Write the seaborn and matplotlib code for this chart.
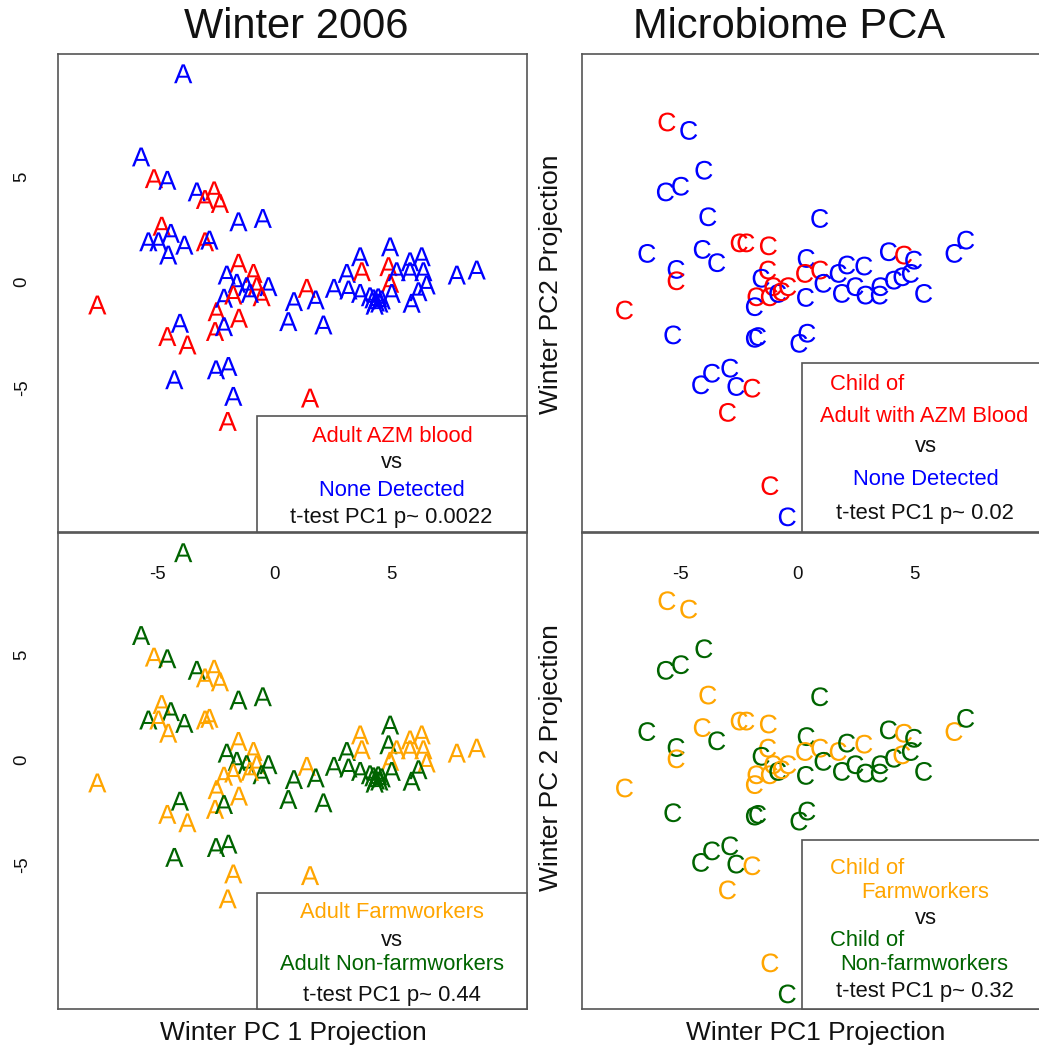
import numpy as np
import pandas as pd
import matplotlib
matplotlib.use("Agg")
import matplotlib.pyplot as plt
from matplotlib.textpath import TextPath
from matplotlib.font_manager import FontProperties
from matplotlib.path import Path
from matplotlib.patches import Rectangle
import seaborn as sns

# ---------------- data: winter 2006 PCA projections ----------------
# adults (plotted with the letter "A")
adult_pc1 = [-3.88, -5.68, -5.13, -4.56, -3.30, -2.95, -2.56, -2.31, -1.52, -0.48,
             -4.80, -4.41, -5.37, -4.94, -4.52, -3.83, -2.95, -2.76,
             -7.55, -4.02, -4.56, -3.70, -2.45, -2.52, -2.14, -1.50, -2.14,
             -4.26, -2.48, -1.95, -1.74, -1.98, 1.54,
             -1.52, -2.02, -1.59, -0.88, -1.17, -0.74, -0.24, -0.53, -1.74, -1.03,
             0.61, 2.11, 0.85, 1.40, 1.78, 2.56, 3.11, 3.18, 3.68, 3.68, 3.75,
             4.96, 4.89, 4.96, 4.10, 4.25, 4.35, 4.45, 4.50, 4.30, 4.60, 5.03,
             5.24, 5.81, 6.31, 5.81, 6.38, 6.52, 6.17, 5.88, 7.81, 8.66]
adult_pc2 = [9.89, 5.94, 4.91, 4.83, 4.28, 3.92, 4.33, 3.73, 2.86, 3.02,
             2.65, 2.31, 1.91, 1.91, 1.28, 1.75, 1.91, 1.99,
             -1.09, -1.96, -2.59, -2.99, -1.41, -2.35, -2.12, -1.72, -0.77,
             -4.64, -4.17, -4.01, -5.43, -6.62, -5.51,
             0.89, 0.33, -0.06, 0.41, -0.22, -0.22, -0.22, -0.70, -0.62, -0.54,
             -1.88, -2.04, -0.93, -0.30, -0.85, -0.30, 0.41, -0.38, -0.54, 1.20, 0.49,
             1.67, 0.73, -0.06, -0.70, -0.80, -0.95, -0.75, -1.00, -1.10, -0.85, -0.54,
             0.49, 0.96, 1.20, 0.49, 0.49, -0.14, -0.46, -1.01, 0.33, 0.57]
adult_blood = list("BBRBBRRRBB" "RBBBBBRB" "RBRRRRBRB" "BBBBRR" "RBBRBRBRRB"
                   "BBBRBBBBBBR" "BRRBBBBBBBB" "BBBBBBBBBB")
adult_work = list("GGOGGOOOGG" "OGGOOGOO" "OGOOOOGOO" "GGGOOO" "OGGOGOGGOO"
                  "GGGOGGGGGOO" "GGOGGGGGGGG" "OOOOOOGGOO")

# children (plotted with the letter "C")
child_pc1 = [-5.59, -4.66, -4.01, -5.66, -5.01, -3.84, 0.95, -6.45, -4.08, -3.46,
             -5.20, -5.20, -2.50, -2.21, -1.25, -7.41, -5.34, -1.85, -1.71, 0.06,
             0.40, -4.15, -3.68, -2.90, -2.64, -1.95, -3.00, -1.18, -0.44,
             -1.28, -1.56, -1.78, -1.85, -1.21, -1.06, -0.85, -0.42, -0.70,
             0.37, 0.30, 0.34, 0.95, 1.09, 1.74, 2.10, 1.88, 2.46, 2.84, 2.89,
             3.50, 3.53, 3.89, 4.54, 4.97, 4.11, 4.47, 4.83, 5.40, 6.70, 7.20]
child_pc2 = [7.60, 7.20, 5.31, 4.28, 4.55, 3.10, 3.02, 1.36, 1.55, 0.92,
             0.60, 0.06, 1.86, 1.86, 1.72, -1.33, -2.51, -2.67, -2.59, -2.91,
             -2.43, -4.88, -4.33, -4.09, -4.96, -5.04, -6.19, -9.67, -11.15,
             0.57, 0.18, -0.70, -1.17, -0.70, -0.22, -0.54, -0.22, -0.46,
             1.12, 0.41, -0.73, 0.57, -0.06, 0.41, 0.81, -0.54, -0.22, 0.76, -0.62,
             -0.62, -0.22, 1.44, 1.28, 1.04, 0.09, 0.25, 0.41, -0.54, 1.36, 1.99]
child_blood = list("RBBBBBBBBB" "BRRRRRBBBB" "BBBBBRRRB" "RBRBRRBRR"
                   "BRBRBBBBBBB" "BBBRBBBBBBB")
child_work = list("OOGGGOGGOG" "GOOOOOGGGG" "GGGGGOOOG" "OGOOOOGOO"
                  "GOGOGOGGGOG" "GGGOGGOGGOG")

blood_colors = {"R": "#FF0000", "B": "#0000FF"}
work_colors = {"O": "#FFA500", "G": "#006400"}

adults = pd.DataFrame({"pc1": adult_pc1, "pc2": adult_pc2,
                       "blood": adult_blood, "work": adult_work})
children = pd.DataFrame({"pc1": child_pc1, "pc2": child_pc2,
                         "blood": child_blood, "work": child_work})

# ---------------- style ----------------
sns.set_style("white")
plt.rcParams["font.family"] = ["Liberation Sans", "DejaVu Sans"]

W, H = 1039, 1050
FRAME = "#555555"
XLIM = (-9.23, 10.81)
YLIM = (-11.87, 10.83)


def letter_marker(ch):
    """Centered glyph outline usable as a scatter marker."""
    tp = TextPath((0, 0), ch, size=1, prop=FontProperties(family="Liberation Sans"))
    v = tp.vertices.copy()
    codes = tp.codes
    start = v[0].copy()
    for i, c in enumerate(codes):
        if c == Path.MOVETO:
            start = v[i].copy()
        elif c == Path.CLOSEPOLY:
            v[i] = start
    lo, hi = v.min(axis=0), v.max(axis=0)
    v -= (lo + hi) / 2
    return Path(v, codes)


MARK_A = letter_marker("A")
MARK_C = letter_marker("C")


def px_box(l, t, r, b):
    return [l / W, 1 - b / H, (r - l) / W, (b - t) / H]


def ftext(x, y, s, **kw):
    fig.text(x / W, 1 - y / H, s, **kw)


fig = plt.figure(figsize=(W / 100, H / 100), dpi=100)
fig.patch.set_facecolor("white")

ax_tl = fig.add_axes(px_box(58, 54, 527, 532))
ax_bl = fig.add_axes(px_box(58, 533, 527, 1009))
ax_tr = fig.add_axes(px_box(582, 54, 1050, 532))
ax_br = fig.add_axes(px_box(582, 533, 1050, 1009))

panels = [
    (ax_tl, adults, "blood", blood_colors, MARK_A),
    (ax_bl, adults, "work", work_colors, MARK_A),
    (ax_tr, children, "blood", blood_colors, MARK_C),
    (ax_br, children, "work", work_colors, MARK_C),
]

for ax, df, hue, pal, mk in panels:
    ax.set_facecolor("none")
    sns.scatterplot(data=df, x="pc1", y="pc2", hue=hue, palette=pal,
                    marker=mk, s=185, linewidth=0, edgecolor="none",
                    legend=False, ax=ax, zorder=2)
    ax.set_xlim(*XLIM)
    ax.set_ylim(*YLIM)
    ax.set_xlabel("")
    ax.set_ylabel("")
    for sp in ax.spines.values():
        sp.set_color(FRAME)
        sp.set_linewidth(1.2)
    ax.set_xticks([])
    ax.set_yticks([])

# x axes of the upper panels (labels fall into the lower panels)
for ax in (ax_tl, ax_tr):
    ax.set_xticks([-5, 0, 5])
    ax.set_xticklabels(["-5", "0", "5"], fontsize=13.4)
    ax.tick_params(axis="x", direction="out", length=7.2, width=1.1,
                   color=FRAME, pad=17, labelcolor="#111111")

# y axes of the left panels
for ax in (ax_tl, ax_bl):
    ax.set_yticks([-5, 0, 5])
    ax.set_yticklabels(["-5", "0", "5"], fontsize=13.4, rotation=90, va="center")
    ax.tick_params(axis="y", direction="out", length=7.2, width=1.1,
                   color=FRAME, pad=12.5, labelcolor="#111111")

# text boxes in the lower right corner of each panel
for ax, x0, h in [(ax_tl, 0.424, 0.243), (ax_bl, 0.424, 0.244),
                  (ax_tr, 0.470, 0.354), (ax_br, 0.470, 0.355)]:
    ax.add_patch(Rectangle((x0, 0), 1 - x0, h, transform=ax.transAxes,
                           facecolor="white", edgecolor=FRAME, linewidth=1.2,
                           zorder=3, clip_on=False))

LEG = 15.8
ftext(392, 437, "Adult AZM blood", color="#FF0000", fontsize=LEG, ha="center", va="center")
ftext(392, 463, "vs", color="#111111", fontsize=LEG, ha="center", va="center")
ftext(392, 490, "None Detected", color="#0000FF", fontsize=LEG, ha="center", va="center")
ftext(391, 517, "t-test PC1 p~ 0.0022", color="#111111", fontsize=LEG, ha="center", va="center")

ftext(830, 385, "Child of", color="#FF0000", fontsize=LEG, ha="left", va="center")
ftext(820, 417, "Adult with AZM Blood", color="#FF0000", fontsize=LEG, ha="left", va="center")
ftext(926, 447, "vs", color="#111111", fontsize=LEG, ha="center", va="center")
ftext(926, 479, "None Detected", color="#0000FF", fontsize=LEG, ha="center", va="center")
ftext(925, 513, "t-test PC1 p~ 0.02", color="#111111", fontsize=LEG, ha="center", va="center")

ftext(392, 912, "Adult Farmworkers", color="#FFA500", fontsize=LEG, ha="center", va="center")
ftext(392, 941, "vs", color="#111111", fontsize=LEG, ha="center", va="center")
ftext(392, 964, "Adult Non-farmworkers", color="#006400", fontsize=LEG, ha="center", va="center")
ftext(392, 995, "t-test PC1 p~ 0.44", color="#111111", fontsize=LEG, ha="center", va="center")

ftext(830, 868, "Child of", color="#FFA500", fontsize=LEG, ha="left", va="center")
ftext(861, 893, "Farmworkers", color="#FFA500", fontsize=LEG, ha="left", va="center")
ftext(926, 918, "vs", color="#111111", fontsize=LEG, ha="center", va="center")
ftext(830, 940, "Child of", color="#006400", fontsize=LEG, ha="left", va="center")
ftext(840, 964, "Non-farmworkers", color="#006400", fontsize=LEG, ha="left", va="center")
ftext(925, 992, "t-test PC1 p~ 0.32", color="#111111", fontsize=LEG, ha="center", va="center")

# titles and axis labels
ftext(296, 27, "Winter 2006", fontsize=30, ha="center", va="center", color="#111111")
ftext(789, 27, "Microbiome PCA", fontsize=30, ha="center", va="center", color="#111111")
ftext(293, 1033, "Winter PC 1 Projection", fontsize=19, ha="center", va="center", color="#111111")
ftext(816, 1033, "Winter PC1 Projection", fontsize=19, ha="center", va="center", color="#111111")
ftext(551, 284, "Winter PC2 Projection", fontsize=19, ha="center", va="center",
      rotation=90, color="#111111")
ftext(551, 758, "Winter PC 2 Projection", fontsize=19, ha="center", va="center",
      rotation=90, color="#111111")

fig.savefig("out.png", dpi=100, facecolor="white")
